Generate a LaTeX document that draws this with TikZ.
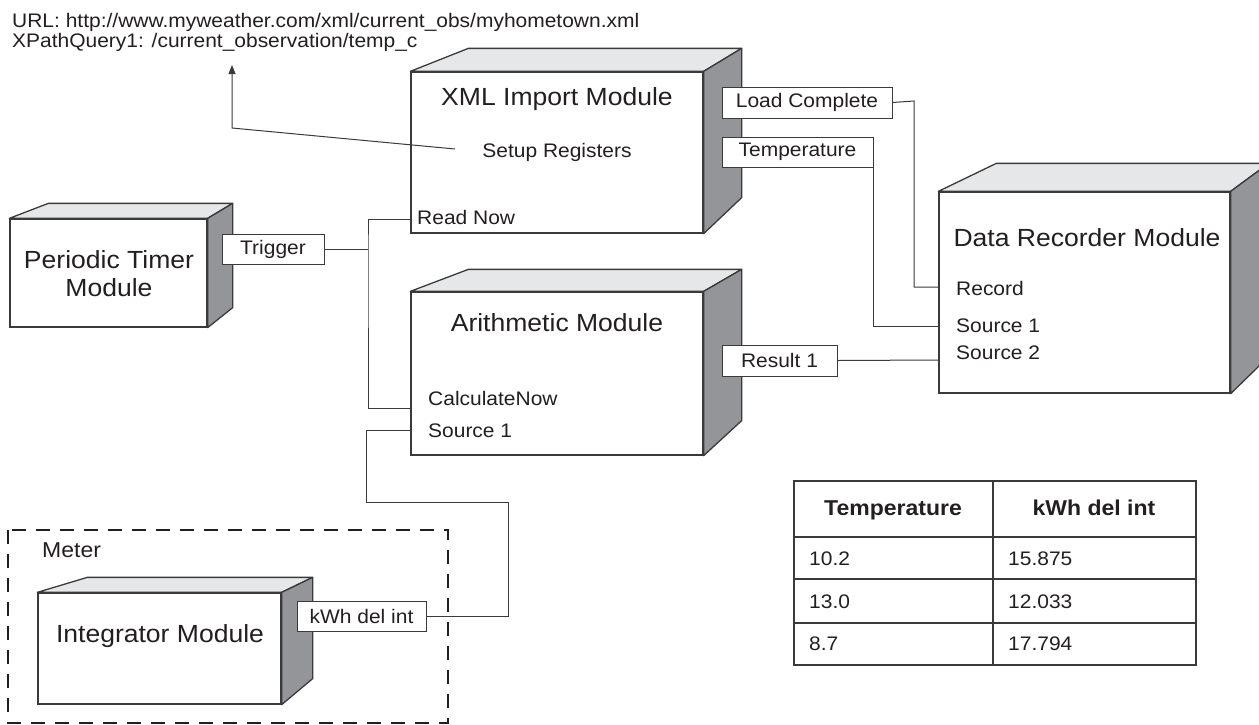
\documentclass[tikz,border=0pt]{standalone}
\usepackage{fontspec}
\setmainfont{Liberation Sans}[FakeStretch=1.07]
\usetikzlibrary{calc,arrows.meta}
\definecolor{ink}{HTML}{231F20}
\definecolor{topgray}{HTML}{E6E7E8}
\definecolor{sidegray}{HTML}{939598}
\definecolor{edge}{HTML}{3A3A3A}
\newcommand{\titlesize}{\fontsize{24.8}{28}\selectfont}
\newcommand{\portsize}{\fontsize{19.6}{22}\selectfont}
\newcommand{\headsize}{\fontsize{21.5}{24}\selectfont\bfseries}
% name, back-left shift, back-right shift, top depth, bottom depth
\newcommand{\cubefaces}[5]{%
  \filldraw[fill=topgray,draw=edge,line width=1.3pt,line join=round]
    (#1.north west) -- ++(#2,-#4) -- ($(#1.north east)+(#3,-#4)$) -- (#1.north east) -- cycle;
  \filldraw[fill=sidegray,draw=edge,line width=1.3pt,line join=round]
    (#1.north east) -- ++(#3,-#4) -- ($(#1.south east)+(#3,-#5)$) -- (#1.south east) -- cycle;
}
\begin{document}
\begin{tikzpicture}[x=1pt,y=-1pt,
  module/.style={draw=edge,fill=white,line width=1.3pt,inner sep=0pt},
  portbox/.style={draw=edge,fill=white,line width=1pt,inner sep=0pt,font=\portsize,text=ink},
  title/.style={anchor=base,inner sep=0pt,font=\titlesize,text=ink},
  port/.style={anchor=base west,inner sep=0pt,font=\portsize,text=ink},
  wire/.style={draw=edge,line width=1pt},
  cell/.style={anchor=base west,inner sep=0pt,font=\portsize,text=ink},
  head/.style={anchor=base,inner sep=0pt,font=\headsize,text=ink}]
\useasboundingbox (0,0) rectangle (1259,724);

% top text
\node[port] (url) at (12,27) {URL: http://www.myweather.com/xml/current\_obs/myhometown.xml};
\node[port] (xpq) at (12,47) {XPathQuery1: /current\_observation/temp\_c};

% Periodic Timer
\node[module,minimum width=197,minimum height=108] (pt) at (108.5,273) {};
\cubefaces{pt}{39}{25}{15}{20}
\node[title,align=center,anchor=center] (ptt) at (109,274) {Periodic Timer\\Module};

% XML Import
\node[module,minimum width=292,minimum height=161] (xml) at (557,152.5) {};
\cubefaces{xml}{58}{38}{23}{36}
\node[title] (xmlt) at (557,105) {XML Import Module};
\node[port,anchor=base] (setup) at (557,157) {Setup Registers};
\node[port] (readnow) at (417,224) {Read Now};

% Arithmetic
\node[module,minimum width=292,minimum height=163] (ari) at (557,373.5) {};
\cubefaces{ari}{58}{38}{22}{35}
\node[title] (arit) at (557,331) {Arithmetic Module};
\node[port] (calcnow) at (428,405) {CalculateNow};
\node[port] (asrc) at (428,437) {Source 1};

% Data Recorder
\node[module,minimum width=291,minimum height=201] (dr) at (1084.5,292.5) {};
\cubefaces{dr}{58}{38}{28}{37}
\node[title] (drt) at (1087,246) {Data Recorder Module};
\node[port] (rec) at (956,295) {Record};
\node[port] (dsrc1) at (956,332) {Source 1};
\node[port] (dsrc2) at (956,359) {Source 2};

% Meter group
\draw[ink,line width=2pt,dash pattern=on 14pt off 10pt] (8,530) rectangle (448,723);
\node[port,font=\fontsize{21.5}{24}\selectfont] (meter) at (42,557) {Meter};
\node[module,minimum width=243,minimum height=111] (int) at (159.5,648.5) {};
\cubefaces{int}{50}{31}{15}{26}
\node[title] (intt) at (160,642) {Integrator Module};

% port boxes
\node[portbox,minimum width=102,minimum height=30] (trig) at (273,249) {Trigger};
\node[portbox,minimum width=170,minimum height=31] (load) at (807,102.5) {Load Complete};
\node[portbox,minimum width=151,minimum height=30] (temp) at (797.5,152) {Temperature};
\node[portbox,minimum width=115,minimum height=31] (res) at (779.5,360.5) {Result 1};
\node[portbox,minimum width=129,minimum height=30] (kwh) at (361.5,616) {kWh del int};

% connection points
\coordinate (rnp) at (411,219);
\coordinate (cnp) at (411,408);
\coordinate (asp) at (411,430);
\coordinate (j1) at (368,249);
\coordinate (recp) at (939,287);
\coordinate (s1p) at (939,326);
\coordinate (s2p) at (939,360);
\coordinate (setp) at (455,149);
\coordinate (bend) at (232,128);
\coordinate (tip) at (232,65);

% connectors
\draw[wire] (trig.east) -- (j1);
\draw[wire] (rnp) -| (j1) |- (cnp);
\draw[wire] (asp) -- (366,430) -- (366,502) -- (508,502) -- (508,616) -- (kwh.east);
\draw[wire] (load.east) -- (914,101) |- (recp);
\draw[wire] (temp.north east) |- (s1p);
\draw[wire] (res.east) -- (s2p);
\draw[wire,-{Triangle[length=9pt,width=7pt]}] (setp) -- (bend) -- (tip);

% table
\draw[edge,line width=1.2pt] (794,481) rectangle (1196,665);
\draw[edge,line width=1.2pt] (993,481) -- (993,665);
\draw[edge,line width=1.2pt] (794,537) -- (1196,537) (794,579) -- (1196,579) (794,623) -- (1196,623);
\node[head] (h1) at (893,515) {Temperature};
\node[head] (h2) at (1094,515) {kWh del int};
\node[cell] (c11) at (809,565) {10.2};
\node[cell] (c12) at (1008,565) {15.875};
\node[cell] (c21) at (809,608) {13.0};
\node[cell] (c22) at (1008,608) {12.033};
\node[cell] (c31) at (809,650) {8.7};
\node[cell] (c32) at (1008,650) {17.794};
\end{tikzpicture}
\end{document}
